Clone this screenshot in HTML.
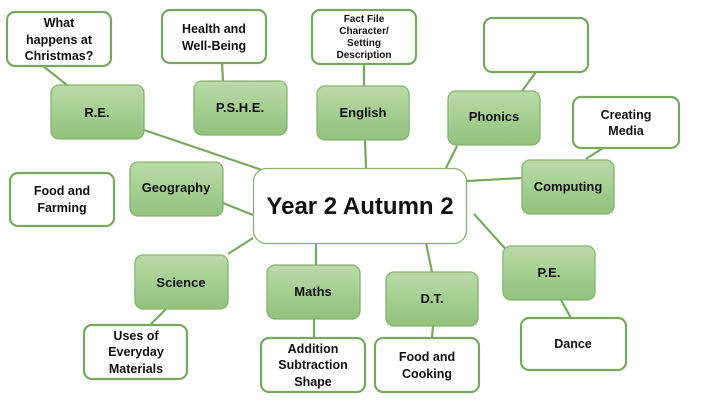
<!DOCTYPE html>
<html><head><meta charset="utf-8"><style>
body{margin:0;background:#fff}
svg text{font-family:"Liberation Sans",sans-serif;font-weight:bold;fill:#111;text-anchor:middle}
</style></head><body>
<svg width="720" height="405" viewBox="0 0 720 405" xmlns="http://www.w3.org/2000/svg">
<defs><linearGradient id="g" x1="0" y1="0" x2="0" y2="1"><stop offset="0" stop-color="#b9dba8"/><stop offset="1" stop-color="#92c27c"/></linearGradient></defs>
<g stroke="#76a85e" stroke-width="2.2" fill="none">
<line x1="144" y1="130" x2="262" y2="170"/>
<line x1="223" y1="203" x2="253" y2="215"/>
<line x1="228" y1="254" x2="253" y2="238"/>
<line x1="316" y1="265" x2="316" y2="243"/>
<line x1="432" y1="272" x2="426" y2="243"/>
<line x1="510" y1="254" x2="474" y2="214"/>
<line x1="522" y1="178" x2="467" y2="181"/>
<line x1="457" y1="146" x2="446" y2="168"/>
<line x1="365" y1="140" x2="366" y2="168"/>
<line x1="43" y1="66" x2="67" y2="85"/>
<line x1="222" y1="63" x2="223" y2="81"/>
<line x1="364" y1="64" x2="364" y2="86"/>
<line x1="536" y1="72" x2="522" y2="91"/>
<line x1="603" y1="148" x2="586" y2="159"/>
<line x1="166" y1="309" x2="151" y2="324"/>
<line x1="314" y1="319" x2="314" y2="338"/>
<line x1="433" y1="326" x2="432" y2="338"/>
<line x1="561" y1="300" x2="571" y2="318"/>
</g>
<rect x="253.5" y="168.5" width="213" height="75" rx="13" fill="#fff" stroke="#86b36e" stroke-width="1.3"/>
<text x="360" y="214" font-size="24">Year 2 Autumn 2</text>
<g fill="url(#g)" stroke="#86b36e" stroke-width="1.3">
<rect x="51" y="85" width="93" height="54" rx="8"/>
<rect x="194" y="81" width="93" height="54" rx="8"/>
<rect x="317" y="86" width="92" height="54" rx="8"/>
<rect x="448" y="91" width="92" height="54" rx="8"/>
<rect x="522" y="160" width="92" height="54" rx="8"/>
<rect x="130" y="162" width="93" height="54" rx="8"/>
<rect x="135" y="255" width="93" height="54" rx="8"/>
<rect x="267" y="265" width="93" height="54" rx="8"/>
<rect x="386" y="272" width="92" height="54" rx="8"/>
<rect x="503" y="246" width="92" height="54" rx="8"/>
</g>
<g fill="#fff" stroke="#76a85e" stroke-width="2.2">
<rect x="7" y="12" width="104" height="54" rx="8"/>
<rect x="162" y="10" width="104" height="53" rx="8"/>
<rect x="312" y="10" width="104" height="54" rx="8"/>
<rect x="484" y="18" width="104" height="54" rx="8"/>
<rect x="573" y="97" width="106" height="51" rx="8"/>
<rect x="10" y="173" width="104" height="53" rx="8"/>
<rect x="84" y="325" width="103" height="54" rx="8"/>
<rect x="261" y="338" width="104" height="54" rx="8"/>
<rect x="375" y="338" width="104" height="54" rx="8"/>
<rect x="521" y="318" width="105" height="52" rx="8"/>
</g>
<g font-size="13">
<text x="97" y="117">R.E.</text>
<text x="240" y="112">P.S.H.E.</text>
<text x="363" y="117">English</text>
<text x="494" y="121">Phonics</text>
<text x="568" y="191">Computing</text>
<text x="176" y="192">Geography</text>
<text x="181" y="287">Science</text>
<text x="313" y="296">Maths</text>
<text x="432" y="303">D.T.</text>
<text x="549" y="277">P.E.</text>
</g>
<g font-size="12.5">
<text x="59" y="27">What</text><text x="59" y="44">happens at</text><text x="59" y="60">Christmas?</text>
<text x="214" y="33">Health and</text><text x="214" y="50">Well-Being</text>
<text x="626" y="119">Creating</text><text x="626" y="135">Media</text>
<text x="62" y="195">Food and</text><text x="62" y="212">Farming</text>
<text x="136" y="340">Uses of</text><text x="136" y="356">Everyday</text><text x="136" y="373">Materials</text>
<text x="313" y="353">Addition</text><text x="313" y="369">Subtraction</text><text x="313" y="386">Shape</text>
<text x="427" y="361">Food and</text><text x="427" y="378">Cooking</text>
<text x="573" y="348">Dance</text>
</g>
<g font-size="10">
<text x="364" y="22">Fact File</text><text x="364" y="34">Character/</text><text x="364" y="46">Setting</text><text x="364" y="58">Description</text>
</g>
</svg>
</body></html>
